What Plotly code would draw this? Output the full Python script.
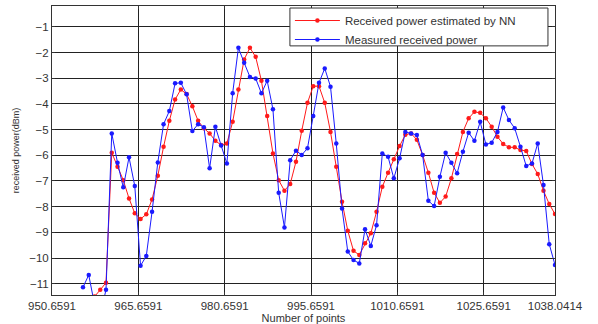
import plotly.graph_objects as go

# x positions: consecutive points ending at 1038.0414
point_x = [956.0414 + i for i in range(83)]

estimated_nn = [
    -12.5, -12.0, -11.5, -11.24, -10.96, -5.9, -6.45, -6.97, -7.68, -8.26,
    -8.48, -8.3, -7.72, -6.8, -5.67, -4.66, -3.83, -3.44, -3.62, -4.09,
    -4.66, -4.95, -5.15, -5.44, -5.6, -5.54, -4.7, -3.44, -2.27, -1.82,
    -2.17, -3.1, -4.47, -5.93, -6.97, -7.38, -7.12, -6.25, -5.05, -3.96,
    -3.31, -3.31, -3.96, -5.09, -6.45, -7.81, -8.94, -9.72, -9.88, -9.43,
    -9.04, -8.2, -7.23, -6.68, -6.16, -5.64, -5.2, -5.15, -5.4, -5.99,
    -6.68, -7.46, -7.85, -7.61, -6.9, -5.95, -5.09, -4.56, -4.31, -4.35,
    -4.56, -4.89, -5.28, -5.56, -5.69, -5.69, -5.8, -5.83, -6.34, -6.73,
    -7.38, -7.9, -8.29,
]

measured = [
    -11.14, -10.66, -11.8, -12.2, -11.24, -5.15, -6.29, -7.25, -6.08, -7.2,
    -10.3, -9.92, -8.2, -6.28, -4.79, -4.28, -3.2, -3.18, -3.63, -5.06,
    -4.79, -4.91, -6.51, -4.89, -5.62, -6.32, -3.59, -1.82, -2.4, -2.95,
    -3.01, -3.59, -3.1, -4.21, -7.46, -8.81, -6.19, -5.82, -5.99, -5.73,
    -4.47, -3.18, -2.62, -3.33, -5.54, -8.07, -9.75, -10.08, -10.21, -8.88,
    -9.53, -8.72, -5.93, -6.06, -6.9, -6.12, -5.09, -5.15, -5.21, -5.99,
    -7.77, -7.98, -6.84, -5.9, -6.29, -6.7, -5.86, -5.12, -5.44, -4.7,
    -5.58, -5.51, -5.09, -4.14, -4.63, -4.95, -5.67, -6.42, -6.32, -5.54,
    -7.16, -9.46, -10.27,
]

x_ticks = [950.6591, 965.6591, 980.6591, 995.6591, 1010.6591, 1025.6591, 1038.0414]
x_tick_text = ["950.6591", "965.6591", "980.6591", "995.6591", "1010.6591", "1025.6591", "1038.0414"]
y_ticks = [-11, -10, -9, -8, -7, -6, -5, -4, -3, -2, -1]

font_family = "Liberation Sans, Arial"

fig = go.Figure()

fig.add_trace(go.Scatter(
    x=point_x, y=estimated_nn, mode="lines+markers",
    name="Received power estimated by NN",
    line=dict(color="#ff1a1a", width=1),
    marker=dict(color="#ff1a1a", size=4.5),
))
fig.add_trace(go.Scatter(
    x=point_x, y=measured, mode="lines+markers",
    name="Measured received power",
    line=dict(color="#1a1aff", width=1),
    marker=dict(color="#1a1aff", size=4.5),
))

axis_style = dict(
    showline=True, linecolor="#333", linewidth=1, mirror="allticks",
    ticks="inside", ticklen=3, tickcolor="#333",
    showgrid=True, gridcolor="#222", gridwidth=1, zeroline=False,
    automargin=False,
    tickfont=dict(family=font_family, size=11.5, color="#333"),
)

fig.update_xaxes(
    range=[950.6591, 1038.0414], tickvals=x_ticks, ticktext=x_tick_text,
    title=dict(text="Number of points", standoff=0,
               font=dict(family=font_family, size=11, color="#333")),
    **axis_style,
)
fig.update_yaxes(
    range=[-11.44, -0.19], tickvals=y_ticks,
    title=dict(text="received power(dBm)", standoff=8,
               font=dict(family=font_family, size=9, color="#333")),
    **axis_style,
)

# legend frame drawn as a box (MATLAB-style, with padding on the right)
fig.add_shape(
    type="rect", xref="paper", yref="paper",
    x0=0.473, x1=0.986, y0=0.862, y1=0.993,
    line=dict(color="#333", width=1), fillcolor="white", layer="above",
)

fig.update_layout(
    width=598, height=324,
    margin=dict(l=52, r=43, t=6, b=29),
    paper_bgcolor="white", plot_bgcolor="white",
    showlegend=True,
    legend=dict(
        x=0.473, y=1.0, xanchor="left", yanchor="top",
        bgcolor="rgba(0,0,0,0)", borderwidth=0,
        font=dict(family=font_family, size=11.5, color="#333"),
        tracegroupgap=0, itemwidth=45,
    ),
)

# drop the browser's default 8px page margin so the figure sits at the corner
fig.write_html("out.html", config={"displayModeBar": False},
               post_script="document.body.style.margin='0px';")
